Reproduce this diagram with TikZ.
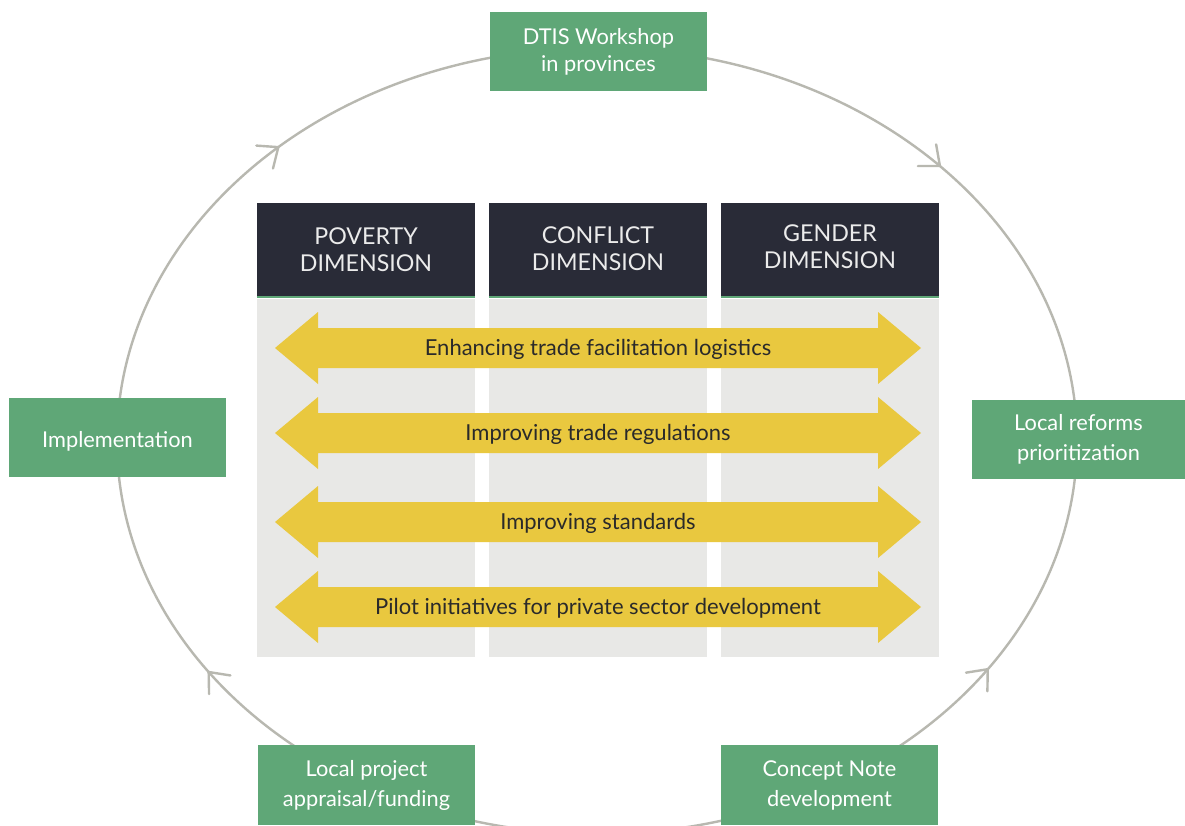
\documentclass[tikz,border=0pt]{standalone}
\usepackage{fontspec}
\setmainfont{Lato}
\usetikzlibrary{arrows.meta}
\definecolor{boxgreen}{HTML}{5FA777}
\definecolor{hdark}{HTML}{292B37}
\definecolor{panelgray}{HTML}{E8E8E6}
\definecolor{yarrow}{HTML}{E9C83F}
\definecolor{ringgray}{HTML}{B8B8B0}
\definecolor{txtdark}{HTML}{2A2A2A}
\tikzset{
  ring/.style={draw=ringgray, line width=2.4pt},
  chev/.style={draw=ringgray, line width=2.4pt, line cap=round, line join=miter},
  greenbox/.style={fill=boxgreen, text=white, minimum width=217pt, minimum height=79pt, inner sep=0pt, align=center, font=\fontsize{21.8}{27}\selectfont},
  wide/.style={font=\fontsize{21.8}{30}\selectfont},
  header/.style={fill=hdark, text=white!92!black, minimum width=218pt, minimum height=94pt, inner sep=0pt, align=center, font=\fontsize{23.2}{27}\selectfont},
  panel/.style={fill=panelgray},
  gline/.style={draw=boxgreen, line width=2pt},
  arrowfill/.style={fill=yarrow},
  arrowtext/.style={text=txtdark, inner sep=0pt, font=\fontsize{22}{26}\selectfont},
}
\newcommand\shiftdown[2]{\raisebox{-#1}[\height][\depth]{#2}}
\newcommand\mychev[3]{% x y direction
  \draw[chev] ({#1},{#2}) ++(#3+140:22pt) -- ({#1},{#2}) -- ++(#3-140:22pt);}
\newcommand\myyarrow[3]{% name, y, text
  \fill[arrowfill] (275,#2) -- (318,#2+36) -- (318,#2+20) -- (878,#2+20) -- (878,#2+36) -- (921,#2)
    -- (878,#2-36) -- (878,#2-20) -- (318,#2-20) -- (318,#2-36) -- cycle;
  \node[arrowtext] (#1) at (598,#2) {\shiftdown{1.5pt}{#3}};}
\begin{document}
\begin{tikzpicture}[x=1pt,y=1pt]
\useasboundingbox (0,0) rectangle (1185,-825);
\fill[white] (0,0) rectangle (1185,-825);
% cycle ellipse
\draw[ring] (597,-441) ellipse [x radius=480pt, y radius=393pt];
\mychev{597+480*cos(131.6)}{-441+393*sin(131.6)}{36}
\mychev{597+480*cos(44.4)}{-441+393*sin(44.4)}{-40}
\mychev{597+480*cos(216)}{-441+393*sin(216)}{131}
\mychev{597+480*cos(-35.5)}{-441+393*sin(-35.5)}{49}
% panels
\fill[panel] (257,-299) rectangle (475,-657);
\fill[panel] (489,-299) rectangle (707,-657);
\fill[panel] (721,-299) rectangle (939,-657);
% headers
\node[header] (pov) at (366,-250) {POVERTY\\DIMENSION};
\node[header] (con) at (598,-250) {\shiftdown{-1.5pt}{CONFLICT}\\\shiftdown{-1.5pt}{DIMENSION}};
\node[header] (gen) at (830,-250) {\shiftdown{-3pt}{GENDER}\\\shiftdown{-3pt}{DIMENSION}};
\draw[gline] (pov.south west) -- (pov.south east);
\draw[gline] (con.south west) -- (con.south east);
\draw[gline] (gen.south west) -- (gen.south east);
% yellow double arrows
\myyarrow{a1}{-348}{Enhancing trade facilitation logistics}
\myyarrow{a2}{-433}{Improving trade regulations}
\myyarrow{a3}{-522}{Improving standards}
\myyarrow{a4}{-607}{Pilot initiatives for private sector development}
% green steps
\node[greenbox] (dtis) at (598.5,-51.5) {DTIS Workshop\\in provinces};
\node[greenbox] (impl) at (117.5,-437.5) {\shiftdown{4pt}{Implementation}};
\node[greenbox, wide, minimum width=213pt] (lrp) at (1078.5,-439.5) {Local reforms\\prioritization};
\node[greenbox, wide, minimum height=80pt] (lpa) at (366.5,-785) {Local project\\appraisal/funding};
\node[greenbox, wide, minimum height=80pt] (cnd) at (829.5,-785) {Concept Note\\development};
\end{tikzpicture}
\end{document}
